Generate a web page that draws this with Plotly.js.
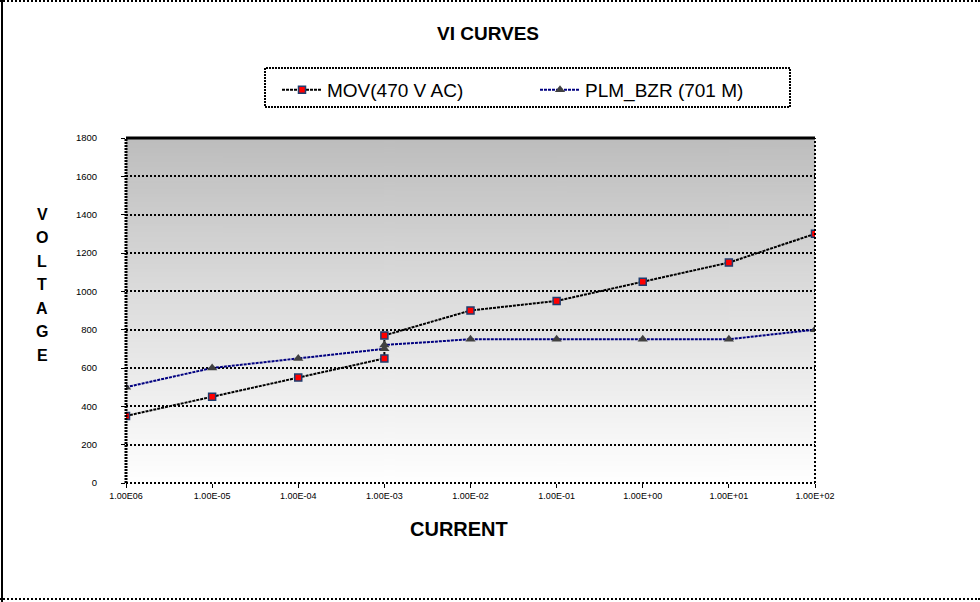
<!DOCTYPE html>
<html>
<head>
<meta charset="utf-8">
<script src="https://cdn.plot.ly/plotly-3.0.1.min.js"></script>
<style>
  html, body { margin: 0; padding: 0; background: #fff; }
  #wrap { position: relative; width: 980px; height: 602px; overflow: hidden; }
  #chart { position: absolute; left: 0; top: 0; width: 980px; height: 602px; }
  .bd { position: absolute; pointer-events: none; }
</style>
</head>
<body>
<div id="wrap">
  <div id="chart"></div>
  <div class="bd" style="left:0;top:0;width:980px;height:0;border-top:2px dotted #000;"></div>
  <div class="bd" style="left:0;top:598px;width:980px;height:0;border-top:2px dotted #000;"></div>
  <div class="bd" style="left:1px;top:0;width:0;height:602px;border-left:2px solid #000;"></div>
</div>
<script>
// ---- data ----
const tickVals = [1e-6, 1e-5, 1e-4, 1e-3, 1e-2, 1e-1, 1, 10, 100];
const tickLabels = ["1.00E06", "1.00E-05", "1.00E-04", "1.00E-03", "1.00E-02", "1.00E-01", "1.00E+00", "1.00E+01", "1.00E+02"];
const movCurrent = [1e-6, 1e-5, 1e-4, 1e-3, 1e-3, 1e-2, 1e-1, 1, 10, 100];
const movVoltage = [350, 450, 550, 650, 770, 900, 950, 1050, 1150, 1300];
const plmCurrent = [1e-6, 1e-5, 1e-4, 1e-3, 1e-3, 1e-2, 1e-1, 1, 10, 100];
const plmVoltage = [500, 600, 650, 700, 720, 750, 750, 750, 750, 800];
const seriesNames = ["MOV(470 V AC)", "PLM_BZR (701 M)"];

// ---- background gradient for plot area ----
const cv = document.createElement('canvas');
cv.width = 4; cv.height = 256;
const ctx = cv.getContext('2d');
const g = ctx.createLinearGradient(0, 0, 0, 256);
g.addColorStop(0, '#bdbdbd');
g.addColorStop(0.45, '#dcdcdc');
g.addColorStop(1, '#ffffff');
ctx.fillStyle = g; ctx.fillRect(0, 0, 4, 256);
const bgURL = cv.toDataURL('image/png');

// plot area in px
const L = 126, R = 815, T = 138, B = 483, W = 980, H = 602;
const px = x => (x - L) / (R - L);
const py = y => (B - y) / (B - T);

const traces = [
  {
    x: movCurrent, y: movVoltage, name: seriesNames[0], type: 'scatter', mode: 'lines+markers',
    line: { color: '#000000', width: 2, dash: '3px,1px' },
    marker: { symbol: 'square', size: 7, color: '#ff0000', line: { color: '#1f3c6e', width: 1.5 } }
  },
  {
    x: plmCurrent, y: plmVoltage, name: seriesNames[1], type: 'scatter', mode: 'lines+markers',
    line: { color: '#000080', width: 2, dash: '3px,1px' },
    marker: { symbol: 'triangle-up', size: 9, color: '#404040', line: { color: '#404040', width: 0 } }
  }
];

const letters = "VOLTAGE".split("");
const annotations = letters.map((ch, i) => ({
  text: ch, xref: 'paper', yref: 'paper', x: px(42), y: py(214 + i * 23.5),
  showarrow: false, xanchor: 'center', yanchor: 'middle',
  font: { family: 'Arial, Liberation Sans', size: 16, color: '#000', weight: 'bold' }
}));
annotations.push({
  text: '<b>CURRENT</b>', xref: 'paper', yref: 'paper', x: px(459), y: py(529),
  showarrow: false, xanchor: 'center', yanchor: 'middle',
  font: { family: 'Arial, Liberation Sans', size: 20, color: '#000' }
});

const lineDot = { color: '#000', width: 2, dash: '2px,2px' };
const shapes = [
  { type: 'line', xref: 'paper', yref: 'paper', x0: 0, x1: 0, y0: 0, y1: 1, line: { color: '#000', width: 3, dash: '2px,1px' }, layer: 'above' },
  { type: 'line', xref: 'paper', yref: 'paper', x0: 1, x1: 1, y0: 0, y1: 1, line: lineDot, layer: 'above' },
  { type: 'line', xref: 'paper', yref: 'paper', x0: 0, x1: 1, y0: 0, y1: 0, line: lineDot, layer: 'above' },
  { type: 'line', xref: 'paper', yref: 'paper', x0: 0, x1: 1, y0: 1, y1: 1, line: { color: '#000', width: 3 }, layer: 'above' },
  { type: 'rect', xref: 'paper', yref: 'paper', x0: px(265), x1: px(790), y0: py(107), y1: py(68), line: { color: '#000', width: 2, dash: '2px,1px' }, fillcolor: 'rgba(0,0,0,0)' }
];

const layout = {
  width: W, height: H,
  margin: { l: L, r: W - R, t: T, b: H - B, pad: 0 },
  paper_bgcolor: '#ffffff', plot_bgcolor: 'rgba(0,0,0,0)',
  font: { family: 'Arial, Liberation Sans, sans-serif', color: '#000' },
  title: { text: '<b>VI CURVES</b>', x: 488 / W, xanchor: 'center', y: 1 - 33 / H, yanchor: 'middle', xref: 'container', yref: 'container',
           font: { family: 'Arial, Liberation Sans', size: 19, color: '#000' } },
  showlegend: true,
  legend: {
    orientation: 'h', x: px(277), xanchor: 'left', y: py(90), yanchor: 'middle',
    bgcolor: 'rgba(0,0,0,0)', borderwidth: 0,
    font: { family: 'Arial, Liberation Sans', size: 19, color: '#000' },
    itemwidth: 40, entrywidth: 203, entrywidthmode: 'pixels', traceorder: 'normal'
  },
  xaxis: {
    type: 'log', range: [-6, 2], tickvals: tickVals, ticktext: tickLabels,
    showgrid: false, zeroline: false, showline: false,
    ticks: 'outside', ticklen: 4, tickwidth: 1, tickcolor: '#000',
    tickfont: { family: 'Arial, Liberation Sans', size: 9, color: '#000' }
  },
  yaxis: {
    range: [0, 1800], dtick: 200, tick0: 0,
    showgrid: true, gridcolor: '#000', gridwidth: 2, griddash: '2px,2px',
    zeroline: false, showline: false,
    ticks: 'outside', ticklen: 4, tickwidth: 1, tickcolor: '#000',
    ticklabelstandoff: 22,
    tickfont: { family: 'Arial, Liberation Sans', size: 9.5, color: '#000' }
  },
  images: [{ source: bgURL, xref: 'paper', yref: 'paper', x: 0, y: 1, sizex: 1, sizey: 1, sizing: 'stretch', xanchor: 'left', yanchor: 'top', layer: 'below' }],
  shapes: shapes,
  annotations: annotations
};

Plotly.newPlot('chart', traces, layout, { displayModeBar: false, staticPlot: true });
</script>
</body>
</html>
